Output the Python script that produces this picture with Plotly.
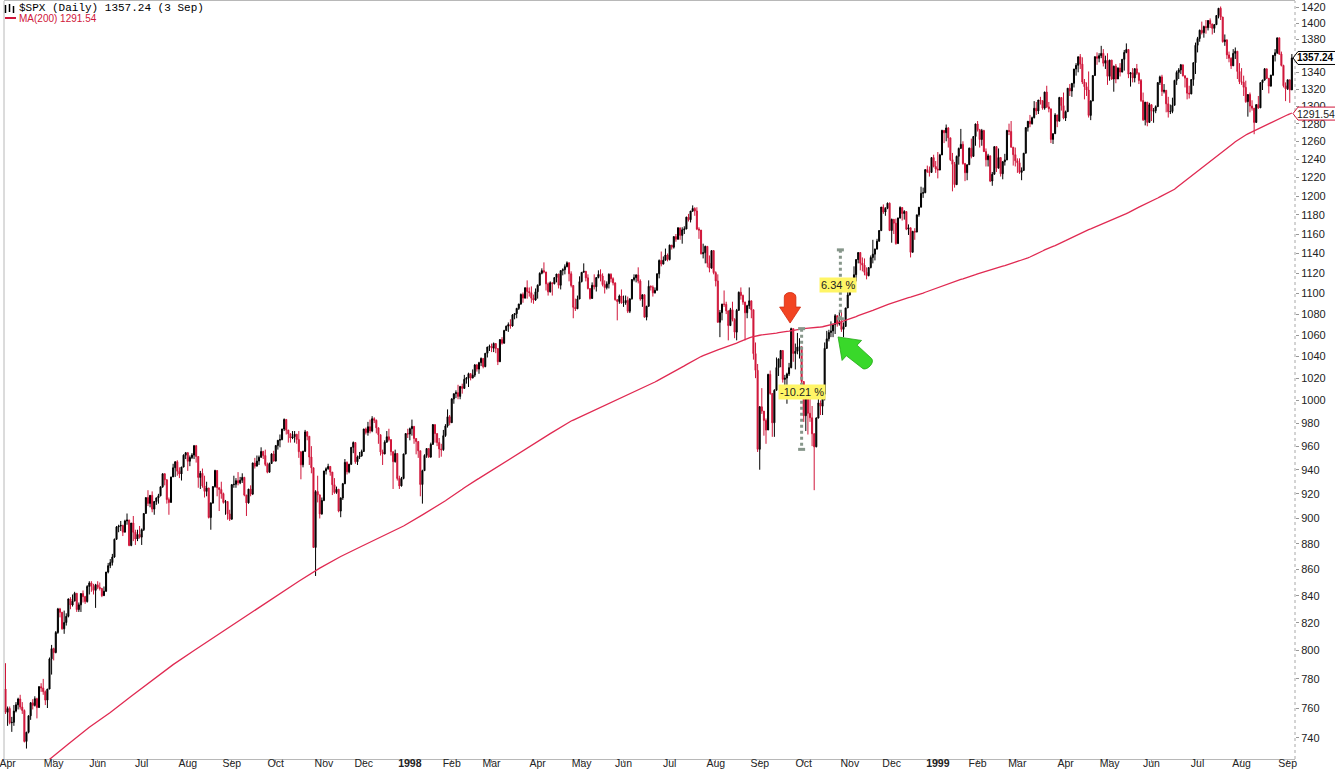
import numpy as np
import pandas as pd
import plotly.graph_objects as go

# ---------------- data ----------------
# first bar: 31 Mar 1997
first_open, first_high, first_low, first_close = 773.0, 791.0, 756.0, 757.12

month_days = [22, 21, 21, 22, 21, 21, 23, 19, 22,
              20, 19, 22, 21, 20, 22, 22, 21, 21, 22, 20, 22,
              19, 19, 23, 21, 20, 22, 21, 22, 3]
month_labels = ["Apr", "May", "Jun", "Jul", "Aug", "Sep", "Oct", "Nov", "Dec",
                "<b>1998</b>", "Feb", "Mar", "Apr", "May", "Jun", "Jul", "Aug", "Sep", "Oct", "Nov", "Dec",
                "<b>1999</b>", "Feb", "Mar", "Apr", "May", "Jun", "Jul", "Aug", "Sep"]

close_1997 = [
    759.64, 750.11, 750.32, 757.90, 762.13, 766.12, 760.60, 758.34, 737.65, 743.73, 754.72, 763.53, 761.77, 766.34, 760.37, 774.61, 773.64, 771.18, 765.37, 772.96, 794.05, 801.34,
    798.53, 812.97, 830.24, 827.76, 815.62, 820.26, 824.78, 837.66, 833.13, 836.04, 841.88, 829.75, 833.27, 841.66, 839.35, 835.66, 847.03, 849.71, 847.21, 844.08, 848.28,
    846.36, 845.48, 840.11, 843.43, 858.01, 862.91, 865.27, 869.57, 883.46, 893.27, 893.90, 894.42, 889.06, 897.99, 898.70, 878.62, 896.34, 888.99, 883.68, 887.30, 885.14,
    891.03, 904.03, 916.92, 912.20, 918.75, 907.54, 913.78, 916.68, 918.38, 925.76, 936.59, 931.61, 915.30, 912.94, 933.98, 941.64, 946.71, 938.79, 936.45, 942.29, 952.29, 954.31,
    947.14, 950.30, 952.37, 960.32, 951.19, 933.54, 937.00, 926.53, 922.02, 924.77, 900.81, 912.49, 926.01, 939.35, 925.05, 923.54, 920.16, 913.02, 913.70, 903.67, 899.47,
    927.58, 927.86, 930.87, 929.05, 931.20, 933.62, 919.03, 912.59, 923.91, 919.77, 945.64, 943.00, 947.29, 950.51, 955.43, 951.93, 944.48, 937.91, 945.22, 953.34, 947.28,
    960.46, 965.03, 965.64, 974.77, 983.12, 973.84, 970.62, 966.98, 968.10, 970.28, 965.72, 955.25, 944.16, 955.61, 972.28, 968.49, 950.69, 941.64, 876.99, 921.85, 919.16, 903.68, 914.62,
    938.99, 940.76, 942.76, 938.03, 927.51, 921.13, 923.78, 905.96, 916.66, 928.35, 946.20, 938.23, 944.59, 958.98, 963.09, 946.67, 950.82, 951.64, 955.40,
    974.77, 971.68, 976.77, 973.10, 983.79, 982.37, 975.78, 969.79, 954.94, 953.39, 963.39, 968.04, 965.54, 955.30, 946.78, 953.70, 932.70, 926.53, 932.70, 953.36, 970.84, 970.43,
]
high_1997 = [
    761, 761, 754, 762, 764, 767, 769, 764, 759, 744, 755, 764, 766, 768, 767, 775, 777, 780, 772, 773, 795, 804,
    802, 814, 831, 831, 828, 829, 827, 838, 839, 841, 843, 842, 835, 842, 844, 840, 848, 851, 851, 849, 849,
    851, 850, 846, 847, 858, 865, 868, 872, 884, 894, 895, 898, 895, 899, 904, 899, 896, 902, 891, 891, 894,
    892, 904, 917, 923, 919, 922, 914, 917, 920, 926, 937, 937, 932, 917, 934, 945, 947, 948, 942, 942, 953, 955,
    955, 952, 954, 961, 961, 951, 939, 941, 935, 930, 925, 913, 926, 940, 939, 925, 930, 921, 915, 914, 907,
    928, 935, 933, 938, 934, 937, 934, 919, 924, 927, 946, 950, 952, 952, 959, 956, 957, 946, 946, 954, 956,
    961, 965, 970, 975, 984, 983, 974, 971, 973, 973, 970, 973, 955, 956, 974, 973, 968, 960, 941, 923, 935, 919, 917,
    939, 942, 945, 943, 938, 933, 926, 924, 917, 929, 949, 947, 945, 959, 964, 963, 952, 955, 957,
    975, 976, 981, 983, 986, 985, 983, 976, 970, 957, 965, 973, 975, 966, 955, 957, 954, 935, 934, 953, 971, 975,
]
low_1997 = [
    748, 749, 744, 748, 757, 759, 759, 756, 737, 733, 743, 752, 759, 761, 753, 760, 771, 769, 762, 760, 773, 783,
    793, 798, 812, 824, 815, 812, 818, 824, 830, 832, 836, 828, 828, 828, 835, 834, 835, 841, 843, 841, 831,
    845, 844, 839, 840, 843, 857, 861, 863, 869, 883, 889, 890, 886, 889, 895, 878, 878, 882, 879, 882, 884,
    879, 890, 904, 910, 909, 905, 903, 911, 912, 918, 925, 927, 912, 903, 913, 934, 934, 935, 933, 931, 942, 949,
    939, 943, 949, 949, 946, 925, 924, 925, 917, 918, 900, 891, 912, 925, 918, 906, 916, 912, 903, 899, 898,
    899, 925, 925, 927, 928, 929, 918, 902, 912, 918, 919, 941, 943, 944, 950, 949, 943, 937, 938, 945, 947,
    947, 957, 959, 965, 973, 970, 963, 963, 966, 963, 962, 950, 932, 942, 955, 965, 944, 937, 877, 855, 913, 900, 903,
    914, 936, 940, 935, 919, 920, 920, 905, 901, 915, 928, 936, 937, 944, 954, 945, 944, 949, 951,
    955, 970, 969, 971, 972, 980, 971, 962, 952, 944, 953, 963, 964, 952, 924, 946, 931, 924, 926, 932, 953, 967,
]

close_1998 = [
    975.04, 977.07, 966.58, 964.00, 956.05, 927.69, 939.21, 952.12, 957.94, 950.73, 961.51, 978.60, 970.81, 963.04, 957.59, 956.95, 969.02, 977.46, 985.49, 980.28,
    1001.27, 1006.00, 1006.90, 1003.54, 1012.46, 1010.74, 1019.01, 1020.01, 1024.14, 1020.09, 1022.76, 1032.08, 1028.28, 1034.21, 1038.14, 1030.56, 1042.90, 1048.67, 1049.34,
    1047.70, 1052.02, 1047.33, 1035.05, 1055.69, 1052.31, 1064.25, 1068.47, 1069.92, 1068.61, 1079.27, 1080.45, 1085.52, 1089.74, 1099.16, 1095.55, 1105.65, 1101.93, 1100.80, 1095.44, 1093.60, 1101.75,
    1108.15, 1120.01, 1122.70, 1121.38, 1109.55, 1101.65, 1110.67, 1109.69, 1115.75, 1119.32, 1108.17, 1122.72, 1123.65, 1126.67, 1130.54, 1119.58, 1107.90, 1086.54, 1085.11, 1094.63, 1111.75,
    1121.00, 1122.07, 1115.50, 1104.92, 1095.14, 1108.14, 1106.64, 1115.79, 1118.86, 1117.37, 1108.73, 1105.82, 1109.52, 1119.06, 1114.64, 1110.47, 1094.02, 1092.23, 1097.60, 1090.82,
    1090.98, 1093.22, 1082.73, 1094.83, 1113.86, 1115.72, 1118.41, 1112.28, 1094.58, 1098.84, 1077.01, 1087.59, 1107.11, 1106.37, 1100.65, 1103.21, 1119.49, 1132.88, 1129.28, 1133.20, 1138.49, 1133.84,
    1148.56, 1146.42, 1157.33, 1154.66, 1166.38, 1158.56, 1164.33, 1165.19, 1177.58, 1174.81, 1183.99, 1186.75, 1184.10, 1165.07, 1164.08, 1139.75, 1140.80, 1147.27, 1130.24, 1125.21, 1142.95, 1120.67,
    1112.44, 1072.12, 1081.43, 1089.63, 1089.45, 1083.14, 1068.98, 1084.22, 1074.91, 1062.75, 1083.67, 1101.20, 1098.06, 1091.60, 1081.24, 1088.14, 1092.85, 1084.19, 1042.59, 1027.14, 957.28,
    994.26, 990.47, 982.26, 973.89, 1023.46, 1006.20, 980.19, 1009.06, 1029.72, 1037.68, 1045.48, 1018.87, 1020.09, 1023.89, 1029.63, 1066.09, 1042.72, 1044.75, 1048.69, 1049.02, 1017.01,
    986.39, 1002.60, 988.56, 984.59, 970.68, 959.44, 984.39, 997.71, 994.80, 1005.53, 1047.49, 1056.42, 1062.39, 1063.93, 1069.92, 1078.48, 1070.67, 1072.32, 1065.34, 1068.09, 1085.93, 1098.67,
    1111.60, 1110.84, 1118.67, 1133.85, 1141.01, 1130.20, 1128.26, 1120.97, 1117.69, 1125.72, 1135.87, 1139.32, 1144.48, 1152.61, 1163.55, 1188.21, 1182.99, 1186.87, 1192.33, 1163.63,
    1175.28, 1171.25, 1150.14, 1176.74, 1187.70, 1181.38, 1183.49, 1165.02, 1166.46, 1141.20, 1162.83, 1161.94, 1179.98, 1188.03, 1202.84, 1203.57, 1228.54, 1226.27, 1225.49, 1241.81, 1231.93, 1229.23,
]
high_1998 = [
    976, 983, 977, 966, 964, 956, 940, 953, 958, 958, 963, 979, 978, 971, 967, 962, 974, 979, 992, 987,
    1002, 1006, 1009, 1014, 1013, 1015, 1023, 1021, 1025, 1024, 1028, 1033, 1033, 1035, 1039, 1038, 1043, 1049, 1051,
    1052, 1053, 1052, 1047, 1056, 1058, 1065, 1069, 1072, 1075, 1080, 1081, 1086, 1090, 1100, 1101, 1106, 1113, 1106, 1107, 1099, 1105,
    1109, 1121, 1125, 1131, 1121, 1111, 1112, 1110, 1116, 1119, 1119, 1123, 1125, 1129, 1132, 1131, 1122, 1108, 1095, 1098, 1117,
    1121, 1130, 1122, 1119, 1105, 1111, 1119, 1116, 1123, 1124, 1120, 1113, 1112, 1120, 1120, 1116, 1111, 1094, 1099, 1104,
    1098, 1098, 1097, 1095, 1114, 1119, 1119, 1126, 1114, 1099, 1098, 1088, 1113, 1108, 1108, 1106, 1120, 1134, 1142, 1137, 1145, 1140,
    1149, 1148, 1157, 1160, 1167, 1166, 1167, 1168, 1178, 1181, 1184, 1190, 1188, 1188, 1167, 1164, 1150, 1148, 1147, 1138, 1143, 1143,
    1122, 1119, 1084, 1090, 1103, 1092, 1083, 1086, 1092, 1076, 1085, 1102, 1106, 1099, 1092, 1089, 1106, 1093, 1084, 1053, 1033,
    995, 1011, 990, 984, 1024, 1027, 1006, 1010, 1039, 1038, 1046, 1045, 1023, 1025, 1034, 1067, 1066, 1052, 1062, 1057, 1049,
    1017, 1004, 1003, 1008, 995, 971, 985, 1013, 1000, 1013, 1053, 1064, 1065, 1073, 1071, 1080, 1078, 1082, 1082, 1072, 1086, 1103,
    1114, 1115, 1127, 1134, 1141, 1141, 1136, 1135, 1126, 1126, 1138, 1154, 1145, 1155, 1164, 1188, 1191, 1188, 1193, 1193,
    1176, 1175, 1176, 1177, 1189, 1188, 1185, 1184, 1170, 1166, 1163, 1166, 1180, 1188, 1210, 1209, 1229, 1233, 1232, 1242, 1245, 1238,
]
low_1998 = [
    965, 969, 962, 953, 950, 918, 912, 939, 950, 950, 950, 961, 963, 960, 950, 951, 956, 968, 976, 978,
    980, 997, 1002, 1001, 1001, 1006, 1011, 1015, 1012, 1018, 1020, 1021, 1026, 1024, 1031, 1029, 1030, 1039, 1045,
    1044, 1044, 1043, 1032, 1035, 1051, 1052, 1064, 1063, 1066, 1068, 1075, 1076, 1084, 1089, 1091, 1095, 1095, 1097, 1091, 1090, 1093,
    1095, 1108, 1119, 1120, 1103, 1098, 1101, 1098, 1109, 1111, 1105, 1104, 1118, 1119, 1126, 1112, 1106, 1076, 1083, 1085, 1095,
    1111, 1121, 1112, 1104, 1094, 1095, 1104, 1102, 1115, 1112, 1107, 1100, 1104, 1105, 1111, 1108, 1093, 1074, 1090, 1090,
    1087, 1089, 1081, 1081, 1094, 1112, 1111, 1110, 1093, 1087, 1077, 1074, 1087, 1103, 1097, 1100, 1103, 1115, 1127, 1129, 1133, 1132,
    1133, 1144, 1145, 1152, 1154, 1154, 1150, 1160, 1165, 1173, 1172, 1183, 1179, 1164, 1155, 1139, 1135, 1130, 1126, 1121, 1125, 1119,
    1107, 1072, 1058, 1074, 1087, 1080, 1055, 1069, 1073, 1057, 1055, 1083, 1094, 1089, 1055, 1076, 1085, 1076, 1037, 1020, 955,
    940, 988, 969, 962, 974, 1005, 968, 968, 1009, 1022, 1030, 1016, 1012, 997, 1022, 1029, 1035, 1028, 1042, 1038, 1015,
    981, 973, 970, 981, 960, 923, 959, 984, 987, 987, 1000, 1047, 1054, 1058, 1058, 1061, 1068, 1069, 1063, 1058, 1068, 1086,
    1098, 1105, 1110, 1112, 1130, 1123, 1122, 1118, 1114, 1117, 1125, 1130, 1133, 1144, 1152, 1163, 1181, 1179, 1186, 1163,
    1151, 1160, 1149, 1150, 1176, 1174, 1175, 1164, 1159, 1136, 1141, 1154, 1162, 1178, 1188, 1198, 1203, 1225, 1221, 1225, 1231, 1225,
]

close_1999 = [
    1228.10, 1244.78, 1272.34, 1269.73, 1275.09, 1263.88, 1239.51, 1234.40, 1212.19, 1243.26, 1252.00, 1256.62, 1235.16, 1225.19, 1233.98, 1252.31, 1243.17, 1265.37, 1279.64,
    1273.00, 1261.99, 1272.07, 1248.49, 1239.40, 1243.77, 1216.14, 1223.55, 1254.04, 1230.13, 1241.87, 1224.03, 1237.28, 1239.22, 1272.14, 1271.18, 1253.41, 1245.02, 1238.33,
    1236.16, 1225.50, 1227.70, 1246.64, 1275.47, 1282.73, 1279.84, 1286.84, 1297.68, 1294.59, 1307.26, 1306.38, 1297.82, 1316.55, 1299.29, 1297.01, 1262.14, 1268.59, 1289.99, 1282.80, 1310.17, 1300.75, 1286.37,
    1293.72, 1321.12, 1317.89, 1326.89, 1343.98, 1348.35, 1358.63, 1349.82, 1328.44, 1322.85, 1319.00, 1289.48, 1306.17, 1336.12, 1358.82, 1356.85, 1360.04, 1362.80, 1350.91, 1354.31, 1335.18,
    1354.63, 1332.00, 1347.31, 1332.05, 1345.00, 1340.30, 1355.61, 1364.00, 1367.56, 1337.80, 1339.49, 1333.32, 1344.23, 1338.83, 1330.29, 1306.65, 1284.40, 1304.76, 1281.41, 1301.84,
    1294.26, 1294.81, 1299.54, 1327.75, 1334.52, 1317.33, 1318.64, 1302.82, 1293.64, 1294.00, 1301.16, 1330.41, 1339.90, 1342.84, 1349.00, 1335.87, 1333.06, 1315.31, 1314.40, 1331.35, 1351.45, 1372.71,
    1380.99, 1391.22, 1388.12, 1395.86, 1394.42, 1403.28, 1399.10, 1393.56, 1398.17, 1409.62, 1418.78, 1407.65, 1377.10, 1379.29, 1360.97, 1356.94, 1347.76, 1362.84, 1365.40, 1341.03, 1328.72,
    1328.05, 1322.18, 1305.33, 1313.71, 1300.29, 1297.80, 1281.43, 1301.93, 1298.16, 1327.68, 1330.77, 1344.16, 1332.84, 1323.59, 1336.61, 1360.22, 1363.50, 1381.79, 1362.01, 1348.27, 1324.02, 1320.41,
    1331.07, 1319.11, 1357.24,
]
high_1999 = [
    1248, 1246, 1273, 1272, 1279, 1276, 1264, 1247, 1237, 1244, 1253, 1274, 1260, 1236, 1234, 1253, 1263, 1266, 1280,
    1283, 1274, 1274, 1273, 1252, 1246, 1244, 1226, 1254, 1254, 1252, 1242, 1238, 1246, 1273, 1280, 1283, 1253, 1253,
    1241, 1241, 1231, 1247, 1276, 1283, 1290, 1288, 1306, 1305, 1307, 1311, 1307, 1317, 1324, 1305, 1297, 1269, 1292, 1290, 1311, 1310, 1316,
    1295, 1321, 1326, 1327, 1344, 1351, 1359, 1362, 1358, 1332, 1328, 1341, 1307, 1336, 1359, 1364, 1363, 1372, 1368, 1360, 1363,
    1355, 1355, 1348, 1350, 1346, 1351, 1356, 1367, 1375, 1367, 1340, 1345, 1345, 1350, 1340, 1332, 1316, 1305, 1305, 1304,
    1302, 1298, 1301, 1328, 1336, 1337, 1326, 1319, 1311, 1302, 1310, 1331, 1342, 1345, 1350, 1349, 1336, 1333, 1324, 1332, 1352, 1376,
    1383, 1392, 1402, 1397, 1404, 1404, 1406, 1399, 1399, 1410, 1419, 1421, 1408, 1386, 1380, 1365, 1358, 1368, 1370, 1365, 1351,
    1345, 1336, 1330, 1314, 1316, 1307, 1298, 1302, 1312, 1328, 1331, 1345, 1344, 1333, 1337, 1361, 1368, 1382, 1382, 1365, 1349, 1328,
    1331, 1331, 1362,
]
low_1999 = [
    1219, 1228, 1245, 1258, 1260, 1253, 1238, 1205, 1209, 1212, 1234, 1252, 1234, 1216, 1217, 1234, 1241, 1243, 1255,
    1271, 1253, 1255, 1248, 1232, 1232, 1215, 1211, 1223, 1226, 1230, 1221, 1218, 1233, 1239, 1267, 1253, 1233, 1232,
    1225, 1224, 1217, 1227, 1247, 1271, 1276, 1279, 1286, 1290, 1291, 1302, 1296, 1296, 1298, 1293, 1258, 1257, 1269, 1276, 1283, 1295, 1285,
    1283, 1294, 1312, 1311, 1322, 1336, 1340, 1344, 1326, 1308, 1312, 1287, 1284, 1306, 1336, 1349, 1352, 1357, 1347, 1344, 1325,
    1330, 1331, 1317, 1327, 1332, 1335, 1340, 1342, 1363, 1333, 1323, 1328, 1328, 1337, 1326, 1305, 1283, 1278, 1277, 1281,
    1283, 1281, 1292, 1300, 1325, 1312, 1315, 1293, 1287, 1291, 1292, 1301, 1325, 1332, 1338, 1335, 1322, 1308, 1309, 1314, 1324, 1338,
    1364, 1377, 1386, 1382, 1387, 1391, 1394, 1386, 1388, 1398, 1406, 1404, 1376, 1372, 1356, 1352, 1344, 1348, 1356, 1332, 1326,
    1325, 1312, 1304, 1288, 1293, 1295, 1268, 1281, 1297, 1298, 1319, 1330, 1332, 1315, 1323, 1336, 1353, 1362, 1361, 1347, 1322, 1306,
    1319, 1304, 1319,
]

# 200-day moving average for the first months (before 200 bars exist)
ma_early_idx = [0, 10, 20, 30, 40, 50, 60, 70, 80, 90, 100, 110, 120, 130, 140, 150, 160, 170, 180, 190]
ma_early_val = [703, 714, 725, 736, 747, 757, 768, 779, 790, 800, 810, 820, 830, 841, 851, 861, 870, 878, 886, 894]

# measurement / annotation values
drop_from, drop_to, drop_label = 1066.09, 957.24, "-10.21 %"
rise_from, rise_to, rise_label = 1075.5, 1143.7, "6.34 %"
last_close, last_ma = 1357.24, 1291.54

# ---------------- build ----------------
RED = "#d0163a"
MA_RED = "#e02a52"
AX = "#b8b8b8"

close = [first_close] + close_1997 + close_1998 + close_1999
high = [first_high] + high_1997 + high_1998 + high_1999
low = [first_low] + low_1997 + low_1998 + low_1999
n = min(len(close), len(high), len(low))
close, high, low = close[:n], high[:n], low[:n]
open_ = [first_open] + close[:-1]
high = [max(h, o, c) for h, o, c in zip(high, open_, close)]
low = [min(l, o, c) for l, o, c in zip(low, open_, close)]
xi = list(range(n))

month_start = [1]
for d in month_days[:-1]:
    month_start.append(month_start[-1] + d)

ma_roll = pd.Series(close).rolling(200).mean()
ma_x = ma_early_idx + list(range(199, n))
ma_y = ma_early_val + [float(v) for v in ma_roll[199:n]]

fig = go.Figure()
fig.add_trace(go.Candlestick(
    x=xi, open=open_, high=high, low=low, close=close,
    increasing=dict(line=dict(color="black", width=1), fillcolor="black"),
    decreasing=dict(line=dict(color=RED, width=1), fillcolor=RED),
    whiskerwidth=0, hoverinfo="skip", showlegend=False,
))
fig.add_trace(go.Scatter(
    x=ma_x, y=ma_y, mode="lines", line=dict(color=MA_RED, width=1.3),
    hoverinfo="skip", showlegend=False,
))

x_lo, x_hi = -0.72, 615.5
y_lo, y_hi = np.log10(726.2), np.log10(1428.0)
yticks = list(range(740, 1421, 20))
# the 1360 label sits under the last-price tag and is hidden in the chart
ytext = ["" if v == 1360 else str(v) for v in yticks]

fig.update_layout(
    width=1335, height=769,
    margin=dict(l=4, r=40, t=1, b=10, autoexpand=False),
    paper_bgcolor="white", plot_bgcolor="white",
    showlegend=False,
)
fig.update_xaxes(
    range=[x_lo, x_hi], tickmode="array", tickvals=month_start, ticktext=month_labels,
    ticks="outside", ticklen=3, tickcolor="#999", showgrid=False, zeroline=False,
    showline=True, linecolor=AX, linewidth=1, mirror=True, ticklabelstandoff=-9,
    ticklabeloverflow="allow",
    tickfont=dict(family="Liberation Sans, Arial, sans-serif", size=10.5, color="#222"),
    rangeslider=dict(visible=False), automargin=False,
)
fig.update_yaxes(
    type="log", range=[y_lo, y_hi], side="right", tickmode="array",
    tickvals=yticks, ticktext=ytext,
    ticks="outside", ticklen=3, tickcolor="#999", showgrid=False, zeroline=False,
    showline=False,
    tickfont=dict(family="Liberation Sans, Arial, sans-serif", size=11, color="#222"),
    automargin=False,
)

shapes = []
# frame: left border and dotted right axis
shapes.append(dict(type="line", xref="paper", yref="paper", x0=0, x1=0, y0=0, y1=1,
                   line=dict(color=AX, width=1)))
shapes.append(dict(type="line", xref="paper", yref="paper", x0=1, x1=1, y0=0, y1=1,
                   line=dict(color="#a8a8a8", width=1, dash="dot")))

GREY = "#86968a"
for xm, ya, yb in [(380.0, drop_from, drop_to), (398.5, rise_from, rise_to)]:
    shapes.append(dict(type="line", xref="x", yref="y", x0=xm, x1=xm, y0=ya, y1=yb,
                       line=dict(color=GREY, width=3, dash="dot"), layer="above"))
    for yv in (ya, yb):
        shapes.append(dict(type="line", xref="x", yref="y", xsizemode="pixel", xanchor=xm,
                           x0=-3.5, x1=3.5, y0=yv, y1=yv, line=dict(color=GREY, width=3)))

# red arrow pointing down (tip at anchor)
shapes.append(dict(type="path", xref="x", yref="y", xsizemode="pixel", ysizemode="pixel",
                   xanchor=374.5, yanchor=1071.4,
                   path="M 0 0 L -10.5 16 L -5.8 16 L -5.8 26 C -5.8 32 5.8 32 5.8 26 L 5.8 16 L 10.5 16 Z",
                   fillcolor="#f24422", line=dict(color="#d22a10", width=0.8), layer="above"))
# green arrow pointing up-left
shapes.append(dict(type="path", xref="x", yref="y", xsizemode="pixel", ysizemode="pixel",
                   xanchor=397.4, yanchor=1058.2,
                   path="M 0 0 L 23.5 -3.5 L 19.0 -8.2 L 33.5 -21.5 C 37 -25.5 29.5 -33.5 25.0 -31.8 L 8.3 -18.8 L 4.0 -23.5 Z",
                   fillcolor="#39d82a", line=dict(color="#22a814", width=0.8), layer="above"))

# price tags on the right axis
for val, col in [(last_close, "black"), (last_ma, RED)]:
    shapes.append(dict(type="path", xref="paper", yref="y", xsizemode="pixel", ysizemode="pixel",
                       xanchor=1, yanchor=val,
                       path="M -2 0 L 3 6.5 L 44 6.5 L 44 -6.5 L 3 -6.5 Z",
                       fillcolor="white", line=dict(color=col, width=1), layer="above"))

# legend icon + red MA swatch
shapes.append(dict(type="line", xref="paper", yref="paper", xsizemode="pixel", ysizemode="pixel",
                   xanchor=0, yanchor=1, x0=1, x1=12, y0=-17, y1=-17, line=dict(color=RED, width=2)))
for x0, y0, y1 in [(1.5, -4, -12), (5.5, -3, -11), (9.5, -5, -12)]:
    shapes.append(dict(type="line", xref="paper", yref="paper", xsizemode="pixel", ysizemode="pixel",
                       xanchor=0, yanchor=1, x0=x0, x1=x0, y0=y0, y1=y1, line=dict(color="black", width=1.5)))
fig.update_layout(shapes=shapes)

ann = []
ann.append(dict(xref="paper", yref="paper", x=0, y=1, xanchor="left", yanchor="middle",
                xshift=13, yshift=-7, showarrow=False, text="$SPX (Daily) 1357.24 (3 Sep)",
                font=dict(family="Liberation Mono, DejaVu Sans Mono, monospace", size=11, color="black")))
ann.append(dict(xref="paper", yref="paper", x=0, y=1, xanchor="left", yanchor="middle",
                xshift=13, yshift=-17, showarrow=False, text="MA(200) 1291.54",
                font=dict(family="Liberation Sans, Arial, sans-serif", size=10, color=RED)))
ann.append(dict(xref="paper", yref="y", x=1, y=np.log10(last_close), xanchor="left", yanchor="middle",
                xshift=1, showarrow=False, text="<b>%.2f</b>" % last_close, borderpad=0,
                font=dict(family="Liberation Sans, Arial, sans-serif", size=10, color="black")))
ann.append(dict(xref="paper", yref="y", x=1, y=np.log10(last_ma), xanchor="left", yanchor="middle",
                xshift=1, showarrow=False, text="%.2f" % last_ma, borderpad=0,
                font=dict(family="Liberation Sans, Arial, sans-serif", size=10.5, color="#222")))
ann.append(dict(xref="x", yref="y", x=380.2, y=np.log10(1007.5), showarrow=False, text=drop_label,
                bgcolor="#fff566", borderpad=1,
                font=dict(family="Liberation Sans, Arial, sans-serif", size=11, color="#222")))
ann.append(dict(xref="x", yref="y", x=397.6, y=np.log10(1108.5), showarrow=False, text=rise_label,
                bgcolor="#fff566", borderpad=1,
                font=dict(family="Liberation Sans, Arial, sans-serif", size=11, color="#222")))
fig.update_layout(annotations=ann)

fig.write_html("out.html")
